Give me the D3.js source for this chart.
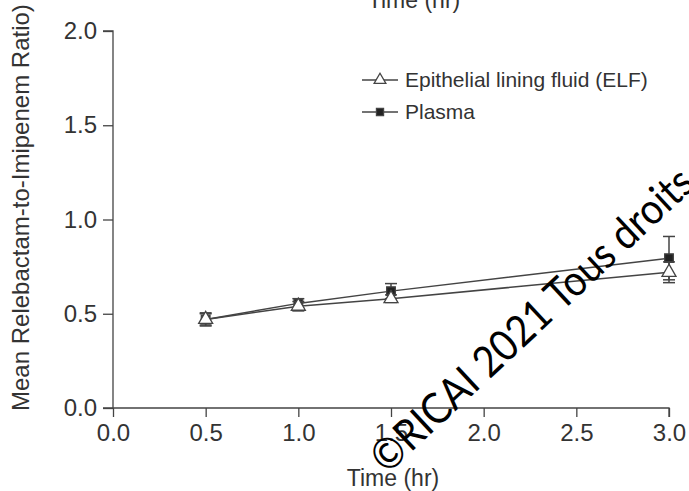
<!DOCTYPE html>
<html>
<head>
<meta charset="utf-8">
<script src="https://cdn.jsdelivr.net/npm/d3@7"></script>
<style>
  body { margin: 0; background: #fff; }
  text { font-family: "Liberation Sans", Arial, sans-serif; fill: #333; }
</style>
</head>
<body>
<svg id="chart" width="689" height="491"></svg>
<script>
// data
var times = [0.5, 1.0, 1.5, 3.0];
var elfMean = [0.47, 0.54, 0.58, 0.72];
var elfErr = [0.03, 0.025, 0.02, 0.055];
var plasmaMean = [0.47, 0.555, 0.62, 0.795];
var plasmaErr = [0.035, 0.025, 0.04, 0.115];
var xTicks = [0, 0.5, 1.0, 1.5, 2.0, 2.5, 3.0];
var yTicks = [0, 0.5, 1.0, 1.5, 2.0];

var svg = d3.select("#chart");
var ink = "#444";

var x = d3.scaleLinear().domain([0, 3]).range([113, 669]);
var y = d3.scaleLinear().domain([0, 2]).range([408, 31]);

// axes
var xAxis = svg.append("g")
    .attr("transform", "translate(0,408)")
    .call(d3.axisBottom(x).tickValues(xTicks).tickFormat(d3.format(".1f")).tickSize(9).tickPadding(7));
var yAxis = svg.append("g")
    .attr("transform", "translate(113,0)")
    .call(d3.axisLeft(y).tickValues(yTicks).tickFormat(d3.format(".1f")).tickSize(10).tickPadding(6));

[xAxis, yAxis].forEach(function (ax) {
    ax.select(".domain").attr("stroke", ink).attr("stroke-width", 1.3);
    ax.selectAll(".tick line").attr("stroke", ink).attr("stroke-width", 1.3);
    ax.selectAll(".tick text").attr("font-size", 24).attr("fill", "#333")
        .style("font-family", "'Liberation Sans', Arial, sans-serif");
});
// plain axis lines, no outer ticks
xAxis.select(".domain").attr("d", "M" + (x(0) - 10) + ",0H" + x(3) + "V9");
yAxis.select(".domain").attr("d", "M-10," + y(2) + "H0V" + y(0));

svg.append("text")
    .attr("x", 393).attr("y", 486)
    .attr("text-anchor", "middle").attr("font-size", 23)
    .text("Time (hr)");

// cut-off title at the top
svg.append("text")
    .attr("x", 414).attr("y", 8)
    .attr("text-anchor", "middle").attr("font-size", 23)
    .text("Time (hr)");

svg.append("text")
    .attr("transform", "translate(29,411) rotate(-90)")
    .attr("text-anchor", "start").attr("font-size", 24)
    .text("Mean Relebactam-to-Imipenem Ratio)");

function series(means, errs, kind) {
    var pts = times.map(function (t, i) { return { t: t, m: means[i], e: errs[i] }; });
    var g = svg.append("g");
    g.append("path")
        .datum(pts)
        .attr("fill", "none").attr("stroke", ink).attr("stroke-width", 1.5)
        .attr("d", d3.line().x(function (d) { return x(d.t); }).y(function (d) { return y(d.m); }));
    var eb = g.selectAll(".eb").data(pts).enter().append("g")
        .attr("stroke", ink).attr("stroke-width", 1.5);
    eb.append("line")
        .attr("x1", function (d) { return x(d.t); }).attr("x2", function (d) { return x(d.t); })
        .attr("y1", function (d) { return y(d.m - d.e); }).attr("y2", function (d) { return y(d.m + d.e); });
    eb.append("line")
        .attr("x1", function (d) { return x(d.t) - 6; }).attr("x2", function (d) { return x(d.t) + 6; })
        .attr("y1", function (d) { return y(d.m + d.e); }).attr("y2", function (d) { return y(d.m + d.e); });
    eb.append("line")
        .attr("x1", function (d) { return x(d.t) - 6; }).attr("x2", function (d) { return x(d.t) + 6; })
        .attr("y1", function (d) { return y(d.m - d.e); }).attr("y2", function (d) { return y(d.m - d.e); });
    var sym = kind === "tri" ? d3.symbolTriangle : d3.symbolSquare;
    g.selectAll(".mk").data(pts).enter().append("path")
        .attr("transform", function (d) { return "translate(" + x(d.t) + "," + y(d.m) + ")"; })
        .attr("d", d3.symbol().type(sym).size(kind === "tri" ? 85 : 75))
        .attr("fill", kind === "tri" ? "#fff" : "#222")
        .attr("stroke", ink).attr("stroke-width", 1.3);
}

series(plasmaMean, plasmaErr, "sq");
series(elfMean, elfErr, "tri");

// legend
var legend = [
    { label: "Epithelial lining fluid (ELF)", kind: "tri" },
    { label: "Plasma", kind: "sq" }
];
var lg = svg.selectAll(".lg").data(legend).enter().append("g")
    .attr("transform", function (d, i) { return "translate(362," + (80 + i * 32) + ")"; });
lg.append("line").attr("x1", 0).attr("x2", 36).attr("stroke", ink).attr("stroke-width", 1.5);
lg.append("path")
    .attr("transform", "translate(18,0)")
    .attr("d", function (d) { return d3.symbol().type(d.kind === "tri" ? d3.symbolTriangle : d3.symbolSquare).size(d.kind === "tri" ? 60 : 50)(); })
    .attr("fill", function (d) { return d.kind === "tri" ? "#fff" : "#222"; })
    .attr("stroke", ink).attr("stroke-width", 1.3);
lg.append("text").attr("x", 43).attr("y", 7).attr("font-size", 21).text(function (d) { return d.label; });

// watermark
svg.append("text")
    .attr("transform", "translate(387,475) rotate(-43) scale(0.9,1)")
    .style("font-family", "Lato, sans-serif")
    .attr("font-size", 43).attr("fill", "#000").style("fill", "#000")
    .text("©RICAI 2021 Tous droits réservés");
</script>
</body>
</html>
